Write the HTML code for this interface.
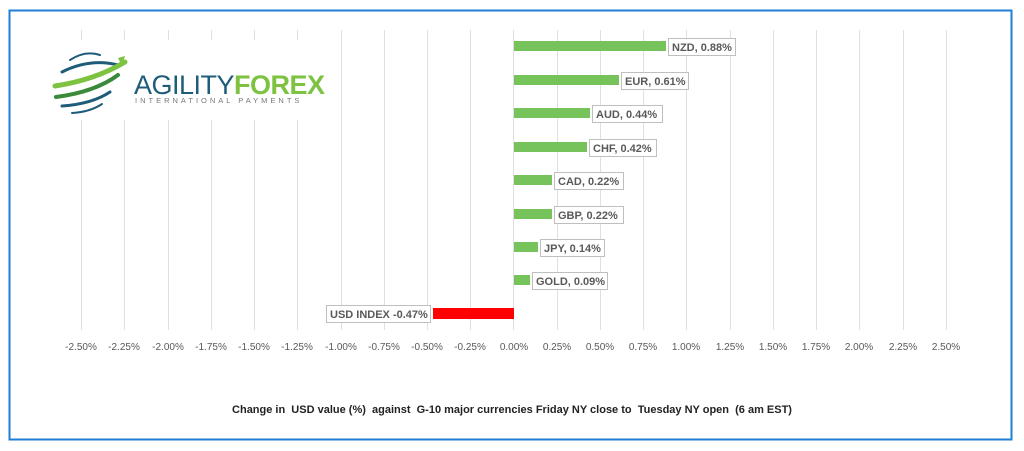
<!DOCTYPE html>
<html><head><meta charset="utf-8"><style>
body{margin:0;background:#fff;width:1024px;height:451px;overflow:hidden}
svg{display:block}
text{font-family:"Liberation Sans",sans-serif}
</style></head><body>
<svg width="1024" height="451" viewBox="0 0 1024 451">
<rect x="9.5" y="10.5" width="1002" height="429" fill="#fff" stroke="#1e7fd6" stroke-width="2"/>
<g stroke="#e0e0e0" stroke-width="1">
<line x1="81.5" y1="30" x2="81.5" y2="330"/><line x1="124.5" y1="30" x2="124.5" y2="330"/><line x1="168.5" y1="30" x2="168.5" y2="330"/><line x1="211.5" y1="30" x2="211.5" y2="330"/><line x1="254.5" y1="30" x2="254.5" y2="330"/><line x1="297.5" y1="30" x2="297.5" y2="330"/><line x1="341.5" y1="30" x2="341.5" y2="330"/><line x1="384.5" y1="30" x2="384.5" y2="330"/><line x1="427.5" y1="30" x2="427.5" y2="330"/><line x1="470.5" y1="30" x2="470.5" y2="330"/><line x1="513.5" y1="30" x2="513.5" y2="330"/><line x1="557.5" y1="30" x2="557.5" y2="330"/><line x1="600.5" y1="30" x2="600.5" y2="330"/><line x1="643.5" y1="30" x2="643.5" y2="330"/><line x1="686.5" y1="30" x2="686.5" y2="330"/><line x1="730.5" y1="30" x2="730.5" y2="330"/><line x1="773.5" y1="30" x2="773.5" y2="330"/><line x1="816.5" y1="30" x2="816.5" y2="330"/><line x1="859.5" y1="30" x2="859.5" y2="330"/><line x1="903.5" y1="30" x2="903.5" y2="330"/><line x1="946.5" y1="30" x2="946.5" y2="330"/>
</g>
<!-- logo -->
<rect x="48" y="40" width="280" height="80" fill="#fff"/>
<g fill="none" stroke-linecap="round">
<path d="M70 60 Q85 50 100 55" stroke="#1f5c7a" stroke-width="2"/>
<path d="M62 72 Q90 58 118 65" stroke="#1f5c7a" stroke-width="3"/>
<path d="M55 86 Q95 80 125 62" stroke="#7ec242" stroke-width="5"/>
<path d="M56 97 Q95 92 118 75" stroke="#3a8a3a" stroke-width="4"/>
<path d="M62 106 Q92 104 110 92" stroke="#1f5c7a" stroke-width="3"/>
<path d="M72 113 Q90 112 102 104" stroke="#1f5c7a" stroke-width="2"/>
</g>
<polygon points="118,58 125,56 122,66" fill="#7ec242"/>
<text x="134" y="94" font-size="27" fill="#1f5c7a" letter-spacing="-0.5">AGILITY<tspan fill="#7ec242" font-weight="bold">FOREX</tspan></text>
<text x="135" y="103" font-size="7.5" fill="#777" letter-spacing="3">INTERNATIONAL PAYMENTS</text>
<!-- bars -->
<g fill="#77c35b">
<rect x="514" y="41" width="152" height="10"/>
<rect x="514" y="75" width="105" height="10"/>
<rect x="514" y="108" width="76" height="10"/>
<rect x="514" y="142" width="73" height="10"/>
<rect x="514" y="175" width="38" height="10"/>
<rect x="514" y="209" width="38" height="10"/>
<rect x="514" y="242" width="24" height="10"/>
<rect x="514" y="275" width="16" height="10"/>
</g>
<rect x="433" y="308" width="81" height="11" fill="#ff0000"/>
<g font-size="11" font-weight="bold" fill="#595959">
<rect x="668.5" y="38.5" width="67" height="17" fill="#fff" stroke="#bfbfbf"/><text x="672" y="51">NZD, 0.88%</text>
<rect x="621.5" y="72.5" width="67" height="17" fill="#fff" stroke="#bfbfbf"/><text x="625" y="85">EUR, 0.61%</text>
<rect x="592.5" y="105.5" width="70" height="17" fill="#fff" stroke="#bfbfbf"/><text x="596" y="118">AUD, 0.44%</text>
<rect x="589.5" y="139.5" width="67" height="17" fill="#fff" stroke="#bfbfbf"/><text x="593" y="152">CHF, 0.42%</text>
<rect x="554.5" y="172.5" width="69" height="17" fill="#fff" stroke="#bfbfbf"/><text x="558" y="185">CAD, 0.22%</text>
<rect x="554.5" y="206.5" width="69" height="17" fill="#fff" stroke="#bfbfbf"/><text x="558" y="219">GBP, 0.22%</text>
<rect x="540.5" y="239.5" width="64" height="17" fill="#fff" stroke="#bfbfbf"/><text x="544" y="252">JPY, 0.14%</text>
<rect x="532.5" y="272.5" width="75" height="17" fill="#fff" stroke="#bfbfbf"/><text x="536" y="285">GOLD, 0.09%</text>
<rect x="326.5" y="305.5" width="104" height="17" fill="#fff" stroke="#bfbfbf"/><text x="330" y="318">USD INDEX -0.47%</text>
</g>
<g font-size="10" fill="#595959" text-anchor="middle">
<text x="81" y="350">-2.50%</text><text x="124" y="350">-2.25%</text><text x="168" y="350">-2.00%</text><text x="211" y="350">-1.75%</text><text x="254" y="350">-1.50%</text><text x="297" y="350">-1.25%</text><text x="341" y="350">-1.00%</text><text x="384" y="350">-0.75%</text><text x="427" y="350">-0.50%</text><text x="470" y="350">-0.25%</text><text x="514" y="350">0.00%</text><text x="557" y="350">0.25%</text><text x="600" y="350">0.50%</text><text x="643" y="350">0.75%</text><text x="686" y="350">1.00%</text><text x="730" y="350">1.25%</text><text x="773" y="350">1.50%</text><text x="816" y="350">1.75%</text><text x="859" y="350">2.00%</text><text x="903" y="350">2.25%</text><text x="946" y="350">2.50%</text>
</g>
<text x="512" y="413" font-size="11" font-weight="bold" fill="#222" text-anchor="middle" xml:space="preserve">Change in  USD value (%)  against  G-10 major currencies Friday NY close to  Tuesday NY open  (6 am EST)</text>
</svg>
</body></html>
